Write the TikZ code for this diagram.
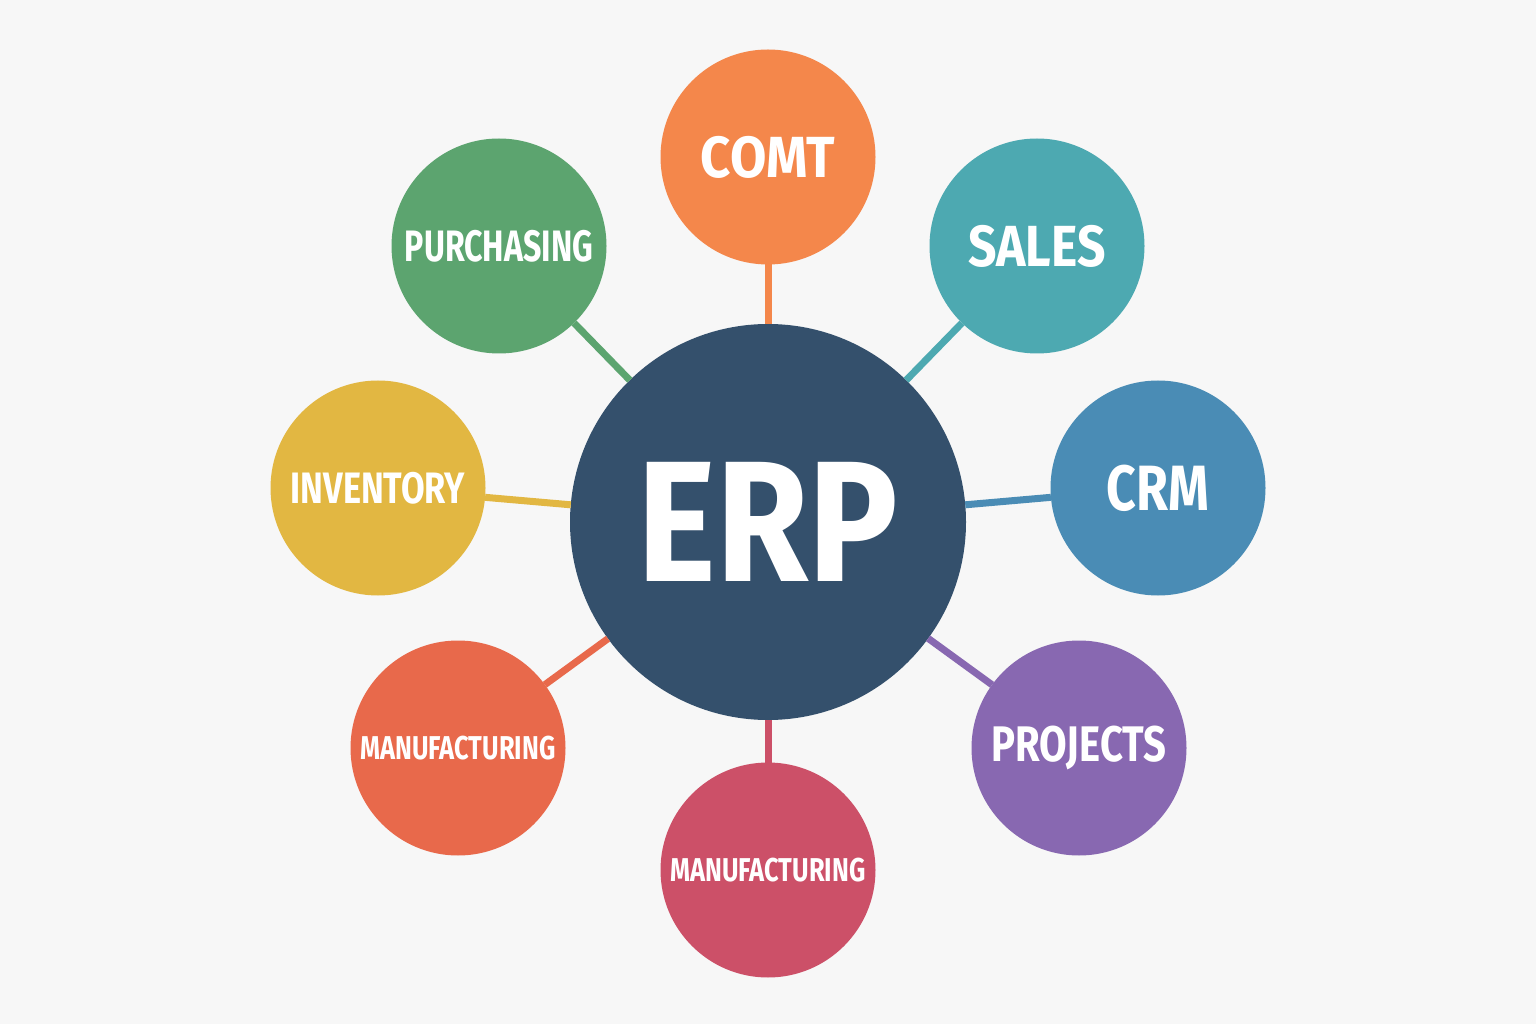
\documentclass[tikz,border=0pt]{standalone}
\usepackage{fontspec}
\usepackage{graphicx}
\setmainfont{Fira Sans}
\newfontfamily\hubfont[FakeStretch=0.87]{Fira Sans}
\newfontfamily\modfont{Fira Sans}
\definecolor{paper}{HTML}{F7F7F7}
\definecolor{hub}{HTML}{34506C}
\definecolor{comt}{HTML}{F4874B}
\definecolor{sales}{HTML}{4DA9B1}
\definecolor{crm}{HTML}{4A8CB5}
\definecolor{proj}{HTML}{8868B1}
\definecolor{mfgb}{HTML}{CC5068}
\definecolor{mfgl}{HTML}{E8694B}
\definecolor{inv}{HTML}{E2B742}
\definecolor{purch}{HTML}{5CA46F}

\begin{document}
\begin{tikzpicture}[x=0.5pt,y=0.5pt,
  every node/.style={circle,inner sep=0pt,outer sep=0pt,text=white},
  hubnode/.style={fill=hub,minimum size=198pt,
    font=\hubfont\bfseries\fontsize{86}{86}\selectfont},
  module/.style={fill=#1,minimum size=107.5pt},
  spoke/.style={draw=#1,line width=3.5pt}]

\fill[paper] (0,0) rectangle (1536,1024);

% ---- hub -----------------------------------------------------------------
\node[hubnode] (erp) at (768,502) {ERP};

% ---- modules round the hub -----------------------------------------------
\foreach \n/\x/\y/\s/\w/\t in {comt/768/867/29/0.91/COMT,
    sales/1037/778/29/0.86/SALES, crm/1158/536/32/0.81/CRM,
    proj/1079/276/25/0.80/PROJECTS,
    mfgb/768/154/16.5/0.77/MANUFACTURING, mfgl/458/276/16.5/0.77/MANUFACTURING,
    inv/378/536/22/0.78/INVENTORY, purch/499/778/22/0.73/PURCHASING} {
  \node[module=\n,font=\modfont\bfseries\fontsize{\s}{\s}\selectfont]
    (\n) at (\x,\y) {\scalebox{\w}[1]{\t}};
}

% ---- spokes --------------------------------------------------------------
\foreach \n in {comt,sales,crm,proj,mfgb,mfgl,inv,purch} {
  \draw[spoke=\n] (erp) -- (\n);
}
\end{tikzpicture}
\end{document}
